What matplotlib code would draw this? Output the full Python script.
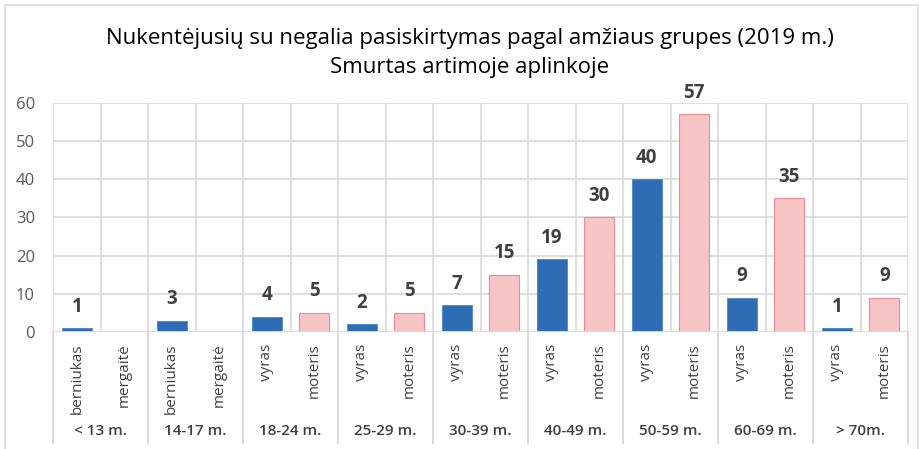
import numpy as np
import matplotlib.pyplot as plt
from matplotlib.patches import Rectangle

# --- Data ---
groups = ["< 13 m.", "14-17 m.", "18-24 m.", "25-29 m.", "30-39 m.",
          "40-49 m.", "50-59 m.", "60-69 m.", "> 70m."]
male_labels = ["berniukas", "berniukas", "vyras", "vyras", "vyras",
               "vyras", "vyras", "vyras", "vyras"]
female_labels = ["mergaitė", "mergaitė", "moteris", "moteris", "moteris",
                 "moteris", "moteris", "moteris", "moteris"]
male_values = [1, 3, 4, 2, 7, 19, 40, 9, 1]
female_values = [0, 0, 5, 5, 15, 30, 57, 35, 9]

title = "Nukentėjusių su negalia pasiskirtymas pagal amžiaus grupes (2019 m.)\nSmurtas artimoje aplinkoje"

plt.rcParams["font.family"] = ["Open Sans", "DejaVu Sans"]
W, H = 919, 449
fig = plt.figure(figsize=(W / 100, H / 100), dpi=100)

# outer chart frame
fig.patches.append(Rectangle((5 / W, -0.01), 913 / W, 1 - 5 / H + 0.01,
                             transform=fig.transFigure, fill=False,
                             edgecolor="#D9D9D9", lw=1.2))

left, right, top, bottom = 53, 908, 103, 332
ax = fig.add_axes([left / W, 1 - bottom / H, (right - left) / W, (bottom - top) / H])

n = len(groups)
x_male = np.arange(n) * 2 + 0.5
x_female = np.arange(n) * 2 + 1.5
bw = 0.63

ax.bar(x_male, male_values, width=bw, color="#2E6DB4", edgecolor="#4A86C8", lw=0.6, zorder=3)
ax.bar(x_female, female_values, width=bw, color="#F8C5C7", edgecolor="#F08A8E", lw=0.8, zorder=3)

for xs, vals, labs in [(x_male, male_values, male_labels), (x_female, female_values, female_labels)]:
    for xv, v, lab in zip(xs, vals, labs):
        if v > 0:
            ax.text(xv, v + 3.0, str(v), ha="center", va="bottom", fontsize=13.5,
                    fontweight="bold", color="#404040")
        ax.text(xv, -3.0, lab, rotation=90, ha="center", va="top", fontsize=11,
                color="#404040")

for i, g in enumerate(groups):
    ax.text(i * 2 + 1, -26.0, g, ha="center", va="center", fontsize=11,
            fontweight="semibold", color="#404040")

ax.set_xlim(0, 2 * n)
ax.set_ylim(0, 60)
ax.set_yticks(range(0, 61, 10))
ax.set_xticks([])
ax.tick_params(axis="y", length=0, labelsize=12, labelcolor="#595959", pad=13)

# gridlines
for y in range(10, 61, 10):
    ax.axhline(y, color="#D9D9D9", lw=1.2, zorder=1)
for xv in range(0, 2 * n + 1):
    ax.axvline(xv, color="#D9D9D9", lw=1.2, zorder=1)
ax.axhline(0, color="#D9D9D9", lw=1.4, zorder=4)

# group separators below the axis
for xv in range(0, 2 * n + 1, 2):
    ax.plot([xv, xv], [0, -29.0], color="#D9D9D9", lw=1.4, clip_on=False)

for s in ax.spines.values():
    s.set_visible(False)

fig.text(470 / W, 1 - 53 / H, title, ha="center", va="center", fontsize=16,
         color="#000000", linespacing=1.5)

fig.savefig("out.png", dpi=100)
